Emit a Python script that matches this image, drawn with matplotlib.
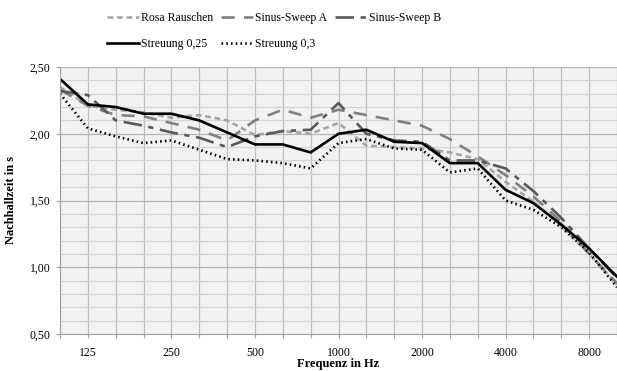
import matplotlib.pyplot as plt
from matplotlib.ticker import MultipleLocator

freqs = ["100", "125", "160", "200", "250", "315", "400", "500", "630", "800", "1000",
         "1250", "1600", "2000", "2500", "3150", "4000", "5000", "6300", "8000", "10000"]
shown = ["125", "250", "500", "1000", "2000", "4000", "8000"]

rosa = [2.35, 2.21, 2.18, 2.16, 2.12, 2.14, 2.10, 1.99, 2.02, 2.00, 2.08,
        1.91, 1.90, 1.89, 1.86, 1.81, 1.64, 1.49, 1.31, 1.10, 0.87]
sweep_a = [2.33, 2.21, 2.14, 2.13, 2.08, 2.03, 1.95, 2.10, 2.18, 2.12, 2.18,
           2.14, 2.10, 2.06, 1.96, 1.83, 1.69, 1.53, 1.34, 1.10, 0.88]
sweep_b = [2.32, 2.29, 2.10, 2.06, 2.01, 1.97, 1.90, 1.98, 2.02, 2.03, 2.23,
           2.00, 1.95, 1.94, 1.80, 1.80, 1.74, 1.57, 1.37, 1.14, 0.92]
streu_025 = [2.41, 2.22, 2.20, 2.15, 2.15, 2.10, 2.01, 1.92, 1.92, 1.86, 2.00,
             2.03, 1.94, 1.93, 1.78, 1.78, 1.58, 1.48, 1.32, 1.14, 0.93]
streu_03 = [2.30, 2.04, 1.98, 1.93, 1.95, 1.88, 1.81, 1.80, 1.78, 1.74, 1.93,
            1.96, 1.89, 1.88, 1.71, 1.74, 1.50, 1.43, 1.30, 1.11, 0.85]

plt.rcParams['font.family'] = ['Liberation Serif', 'DejaVu Serif']

fig = plt.figure(figsize=(6.17, 3.71), dpi=100)
ax = fig.add_axes([60/617, 37/371, 557/617, 267/371])
ax.set_facecolor('#f2f2f2')

x = list(range(len(freqs)))
lw = 1.9
l_rosa, = ax.plot(x, rosa, color='#a6a6a6', lw=lw, dashes=(2.2, 1.4), label='Rosa Rauschen')
l_a, = ax.plot(x, sweep_a, color='#808080', lw=lw, dashes=(5, 3.5), label='Sinus-Sweep A')
l_b, = ax.plot(x, sweep_b, color='#595959', lw=lw, dashes=(7, 2.5, 2, 2.5), label='Sinus-Sweep B')
l_25, = ax.plot(x, streu_025, color='black', lw=lw, label='Streuung 0,25')
l_3, = ax.plot(x, streu_03, color='black', lw=lw, linestyle=(0, (0.6, 1.2)), label='Streuung 0,3')

ax.set_xlim(0, 20)
ax.set_ylim(0.5, 2.5)
ax.set_xticks(x)
ax.set_xticklabels([f if f in shown else "" for f in freqs])
ax.yaxis.set_major_locator(MultipleLocator(0.5))
ax.yaxis.set_minor_locator(MultipleLocator(0.1))
ax.yaxis.set_major_formatter(plt.FuncFormatter(lambda v, p: f"{v:.2f}".replace(".", ",")))

ax.grid(axis='x', which='major', color='#bdbdbd', lw=0.9)
ax.grid(axis='y', which='major', color='#b5b5b5', lw=0.9)
ax.grid(axis='y', which='minor', color='#d4d4d4', lw=0.9)
ax.set_axisbelow(True)

for s in ['top', 'right']:
    ax.spines[s].set_visible(False)
ax.spines['left'].set_color('#a0a0a0')
ax.spines['bottom'].set_color('#a0a0a0')
ax.tick_params(axis='x', which='major', length=3, color='#a0a0a0', labelsize=8.5, pad=6)
ax.tick_params(axis='y', which='major', length=3, color='#a0a0a0', labelsize=8.5, pad=4)
ax.tick_params(axis='y', which='minor', length=0)

ax.set_ylabel("Nachhallzeit in s", fontsize=9, fontweight='bold', labelpad=9)
ax.set_xlabel("Frequenz in Hz", fontsize=9, fontweight='bold', labelpad=0)

fig.legend([l_rosa, l_25, l_a, l_3, l_b],
           ['Rosa Rauschen', 'Streuung 0,25', 'Sinus-Sweep A', 'Streuung 0,3', 'Sinus-Sweep B'],
           ncol=3, loc='upper left', bbox_to_anchor=(107/617, 1 - 12/371),
           frameon=False, fontsize=8.5, handlelength=2.7, handletextpad=0.15,
           columnspacing=0.7, labelspacing=1.2, borderpad=0, borderaxespad=0)

fig.savefig("out.png", dpi=100)
